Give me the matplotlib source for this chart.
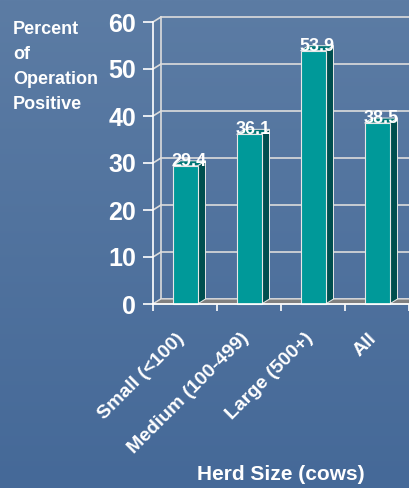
import numpy as np
import matplotlib.pyplot as plt
from matplotlib.patches import Polygon, Rectangle
from matplotlib.transforms import ScaledTranslation

# chart data
categories = ["Small (<100)", "Medium (100-499)", "Large (500+)", "All"]
values = [29.4, 36.1, 53.9, 38.5]
y_ticks = [0, 10, 20, 30, 40, 50, 60]

W, H = 409, 488
fig = plt.figure(figsize=(W / 100, H / 100), dpi=100)

# background gradient
bg = fig.add_axes([0, 0, 1, 1])
grad = np.linspace(0, 1, 256).reshape(-1, 1)
top = np.array([0x5c, 0x7c, 0xa4]) / 255
bot = np.array([0x45, 0x69, 0x98]) / 255
img = top + (bot - top) * grad[..., None]
bg.imshow(img, aspect="auto", extent=[0, 1, 0, 1])
bg.set_axis_off()

# main axes: front frame from x=153..409 px, y=304..22 px
x0, x1, yb, yt = 153, 409, 304, 22
ax = fig.add_axes([x0 / W, 1 - yb / H, (x1 - x0) / W, (yb - yt) / H])
ax.set_facecolor("none")
ax.set_xlim(-0.5, 3.5)
ax.set_ylim(0, 60)

# depth offset (8 px right, 5 px up) in data units
dx = 8 / (x1 - x0) * 4
dy = 5 / (yb - yt) * 60

line_c = "#dcdcdc"
# back wall grid
for t in y_ticks:
    ax.plot([-0.5 + dx, 3.5 + dx], [t + dy, t + dy], color=line_c, lw=1.2,
            clip_on=False, zorder=1)
    ax.plot([-0.5, -0.5 + dx], [t, t + dy], color=line_c, lw=1.2,
            clip_on=False, zorder=1)
ax.plot([-0.5 + dx, -0.5 + dx], [dy, 60 + dy], color=line_c, lw=1.2,
        clip_on=False, zorder=1)

# floor
floor = Polygon([(-0.5, 0), (3.5, 0), (3.5 + dx, dy), (-0.5 + dx, dy)],
                closed=True, facecolor="#808080", edgecolor=line_c, lw=0.8,
                clip_on=False, zorder=2)
ax.add_patch(floor)

# bars
bw = 25 / 64
for i, v in enumerate(values):
    l, r = i - bw / 2, i + bw / 2
    side = Polygon([(r, 0), (r + dx, dy), (r + dx, v + dy), (r, v)],
                   facecolor="#004f4f", edgecolor="#e8e8e8", lw=0.7, zorder=3)
    topf = Polygon([(l, v), (r, v), (r + dx, v + dy), (l + dx, v + dy)],
                   facecolor="#007575", edgecolor="#e8e8e8", lw=0.7, zorder=3)
    front = Rectangle((l, 0), bw, v, facecolor="#009999",
                      edgecolor="#e8e8e8", lw=0.8, zorder=4)
    for p in (side, topf, front):
        p.set_clip_on(False)
        ax.add_patch(p)
    ax.text(i + dx / 2, v, f"{v}", ha="center", va="baseline",
            color="white", fontsize=13, fontweight="bold",
            family="Liberation Sans", zorder=6, clip_on=False)

# spines and ticks
for s in ("top", "right"):
    ax.spines[s].set_visible(False)
for s in ("left", "bottom"):
    ax.spines[s].set_color("white")
    ax.spines[s].set_linewidth(1.2)
    ax.spines[s].set_zorder(5)
ax.set_yticks(y_ticks)
ax.set_yticklabels([str(t) for t in y_ticks], fontsize=18, fontweight="bold",
                   color="white", family="Liberation Sans")
ax.tick_params(axis="y", colors="white", length=7, width=1.2, pad=5)
ax.set_xticks(np.arange(-0.5, 4.0, 1.0))
ax.set_xticklabels([])
ax.tick_params(axis="x", colors="white", length=5, width=1.2)

# category labels
off = ScaledTranslation(-9 / 100, -26 / 100, fig.dpi_scale_trans)
for i, c in enumerate(categories):
    ax.text(i, 0, c, rotation=45, rotation_mode="anchor", ha="right",
            va="top", color="white", fontsize=14, fontweight="bold",
            family="Liberation Sans", transform=ax.transData + off,
            clip_on=False)

fig.text(281 / W, 1 - 474 / H, "Herd Size (cows)", ha="center", va="center",
         color="white", fontsize=15, fontweight="bold", family="Liberation Sans")
fig.text(13 / W, 1 - 21 / H, "Percent\nof\nOperation\nPositive", ha="left",
         va="top", color="white", fontsize=13, fontweight="bold",
         family="Liberation Sans", linespacing=1.62)

fig.savefig("out.png", dpi=100)
